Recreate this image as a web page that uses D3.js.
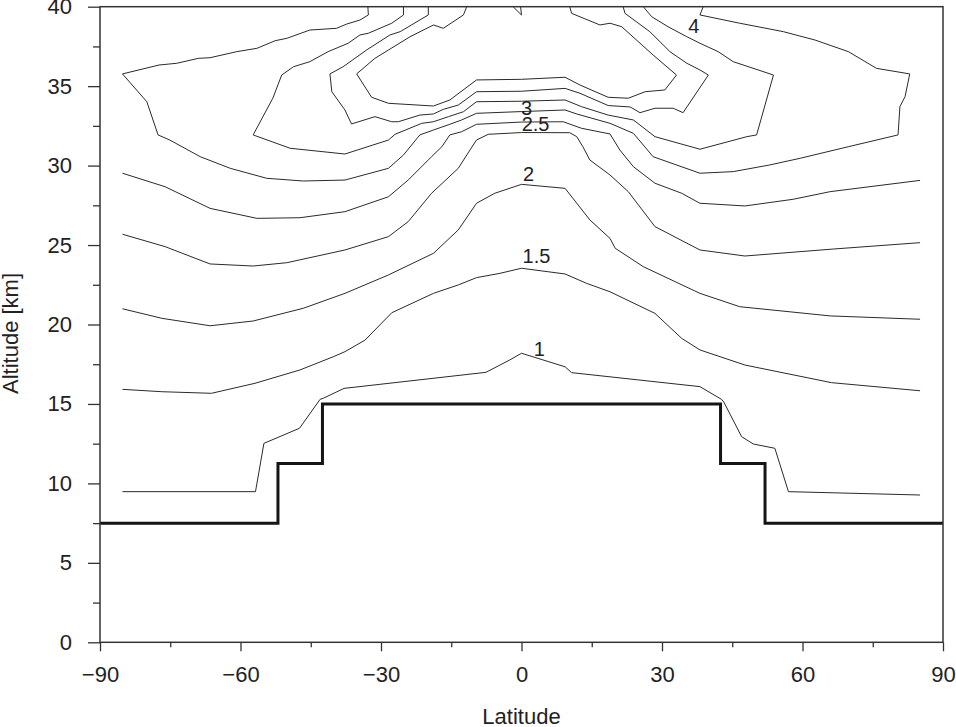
<!DOCTYPE html>
<html>
<head>
<meta charset="utf-8">
<script src="https://cdn.jsdelivr.net/npm/d3@7"></script>
<style>
  html, body { margin: 0; padding: 0; background: #fff; }
  svg { display: block; font-family: "Liberation Sans", Arial, Helvetica, sans-serif; }
</style>
</head>
<body>
<svg id="chart" width="956" height="727"></svg>
<script>
// ---------- DATA (latitude [deg], altitude [km]) ----------
const xTicks = [-90, -60, -30, 0, 30, 60, 90];
const xMinorTicks = [-75, -45, -15, 15, 45, 75];
const yTicks = [0, 5, 10, 15, 20, 25, 30, 35, 40];
const yMinorTicks = [2.5, 7.5, 12.5, 17.5, 22.5, 27.5, 32.5, 37.5];

// tropopause step line (step-after)
const tropLat = [-90, -52, -42.5, 42.5, 52, 90];
const tropAlt = [7.5, 11.25, 15, 11.25, 7.5, 7.5];

const contour_1_0 = [[-85.2,9.48],[-56.8,9.48],[-55.0,12.52],[-47.4,13.47],[-43.0,15.29],[-42.3,15.36],[-37.9,15.98],[-7.6,16.99],[-2.5,17.77],[0.0,18.19],[9.3,17.34],[10.7,16.97],[38.1,16.09],[42.7,15.29],[43.2,15.12],[47.0,12.94],[49.5,12.48],[54.1,12.21],[57.0,9.48],[85.1,9.27]];
const contour_1_5 = [[-85.2,15.92],[-76.8,15.77],[-66.2,15.67],[-56.9,16.3],[-47.3,17.14],[-40.2,17.97],[-37.7,18.29],[-33.4,19.02],[-27.7,20.74],[-18.8,21.96],[-13.5,22.49],[-9.6,22.95],[-4.6,23.22],[0.0,23.54],[9.3,23.18],[13.9,22.59],[18.9,22.06],[28.5,20.7],[34.2,19.13],[38.1,18.4],[47.7,17.45],[66.2,16.34],[85.1,15.83]];
const contour_2_0 = [[-85.2,20.99],[-76.8,20.39],[-66.5,19.92],[-57.3,20.22],[-46.6,21.02],[-37.7,21.96],[-28.4,23.12],[-18.8,24.48],[-13.5,25.95],[-9.6,27.63],[-5.7,28.26],[0.0,28.82],[9.3,28.57],[14.6,26.58],[18.9,25.42],[20.0,24.8],[26.0,23.64],[38.1,21.96],[46.6,21.12],[65.9,20.54],[85.1,20.33]];
const contour_2_5 = [[-85.2,25.68],[-76.1,24.9],[-66.5,23.81],[-57.3,23.68],[-50.1,23.89],[-37.7,24.69],[-28.4,25.53],[-24.2,26.47],[-19.2,28.26],[-13.5,29.83],[-11.0,30.98],[-9.6,31.61],[-7.1,31.97],[0.0,32.08],[10.3,32.07],[11.8,31.82],[13.1,31.19],[14.6,30.35],[18.9,29.41],[22.8,28.36],[28.5,26.16],[38.1,24.69],[47.7,24.31],[66.6,24.75],[85.1,25.15]];
const contour_3_0 = [[-85.2,29.52],[-76.1,28.67],[-66.5,27.31],[-56.5,26.68],[-47.3,26.72],[-37.7,27.1],[-28.4,28.04],[-24.2,29.09],[-19.2,30.56],[-17.0,31.19],[-15.3,31.93],[-12.8,32.13],[-9.6,32.6],[0.0,32.74],[8.9,32.76],[12.8,32.35],[18.9,31.99],[21.0,30.98],[23.9,29.93],[28.5,28.89],[34.2,28.26],[38.1,27.63],[47.7,27.46],[58.0,27.88],[65.9,28.36],[85.1,29.07]];
const contour_3_5 = [[-32.8,40.0],[-32.7,39.48],[-34.5,39.16],[-37.3,38.91],[-39.5,38.64],[-45.2,38.53],[-50.1,38.01],[-52.6,37.86],[-56.5,37.38],[-60.8,37.17],[-66.5,36.79],[-69.0,36.75],[-73.6,36.44],[-77.4,36.33],[-85.2,35.77],[-80.0,34.02],[-77.6,31.93],[-75.1,31.61],[-68.6,30.56],[-62.2,29.83],[-54.4,29.2],[-46.6,29.03],[-37.7,29.09],[-28.4,29.83],[-25.2,30.67],[-21.7,31.93],[-18.8,32.24],[-15.3,32.6],[-12.8,32.87],[-9.6,33.29],[0.0,33.4],[9.3,33.5],[11.8,33.25],[18.9,32.66],[23.9,32.03],[28.1,30.56],[38.1,29.52],[45.2,29.62],[53.0,30.04],[59.5,30.46],[69.8,31.19],[80.4,31.93],[80.8,33.71],[81.9,34.34],[82.9,35.77],[75.8,36.12],[69.8,37.17],[62.7,37.9],[55.9,38.43],[46.6,38.96],[38.1,39.48],[38.8,40.0]];
const contour_4_0 = [[-25.2,40.0],[-25.2,39.48],[-27.7,38.96],[-32.7,38.33],[-34.5,38.22],[-37.0,37.7],[-41.3,37.17],[-45.2,36.54],[-48.7,36.22],[-51.2,35.7],[-53.1,34.24],[-57.3,31.93],[-49.4,31.09],[-37.7,30.73],[-28.4,31.61],[-27.0,31.97],[-21.3,32.66],[-18.8,32.76],[-15.6,33.08],[-12.4,33.39],[-9.6,34.02],[0.0,34.05],[9.3,34.13],[12.8,33.71],[18.5,33.18],[23.9,32.87],[28.5,31.82],[38.1,31.03],[48.1,31.82],[50.2,31.93],[53.8,35.7],[45.2,36.54],[42.0,37.17],[38.1,37.7],[35.3,38.11],[31.3,38.74],[27.8,39.37],[26.0,40.0]];
const contour_4_5 = [[-19.9,40.0],[-19.9,39.48],[-25.9,38.43],[-28.1,38.22],[-33.1,37.27],[-38.1,36.22],[-40.9,35.77],[-40.5,34.65],[-37.7,33.5],[-36.3,32.62],[-31.3,33.08],[-27.7,32.76],[-26.3,32.76],[-21.7,33.18],[-18.8,33.25],[-16.7,33.54],[-13.5,33.81],[-9.6,34.65],[0.0,34.68],[9.3,34.86],[12.5,34.55],[18.5,33.78],[23.2,33.69],[25.3,33.33],[28.5,33.61],[32.4,33.61],[34.5,33.33],[39.9,35.7],[38.1,36.02],[35.3,36.44],[31.7,37.17],[27.4,38.43],[22.1,39.58],[21.7,40.0]];
const contour_5_0 = [[-11.7,40.0],[-12.4,39.48],[-16.7,38.64],[-18.8,38.85],[-23.8,38.11],[-31.3,36.75],[-35.2,35.77],[-32.0,34.3],[-28.4,33.92],[-18.8,33.75],[-15.3,34.13],[-9.6,35.39],[0.0,35.43],[9.3,35.56],[12.5,35.07],[18.5,34.3],[22.8,34.24],[26.4,34.65],[30.6,34.76],[33.1,35.7],[28.1,36.96],[21.4,38.74],[18.9,38.96],[16.75,38.85],[10.7,39.58],[10.3,40.0]];
const contour_5_5 = [[-1.8,40.0],[0.0,39.48],[-0.2,40.0]];

const contours = [contour_1_0, contour_1_5, contour_2_0, contour_2_5, contour_3_0,
                  contour_3_5, contour_4_0, contour_4_5, contour_5_0, contour_5_5];

// contour labels: text, lat, alt
const labelText = ["1", "1.5", "2", "2.5", "3", "4"];
const labelLat  = [3.8, 3.2, 1.5, 3.0, 1.1, 36.8];
const labelAlt  = [18.5, 24.34, 29.46, 32.64, 33.61, 38.8];

// ---------- CHART ----------
const svg = d3.select("#chart");
const x = d3.scaleLinear().domain([-90, 90]).range([100, 943]);
const y = d3.scaleLinear().domain([0, 40]).range([642.3, 6.7]);
const fontFamily = '"Liberation Sans", Arial, Helvetica, sans-serif';
const fmt = d => d < 0 ? "\u2212" + Math.abs(d) : String(d);

svg.append("defs").append("clipPath").attr("id", "plotclip")
  .append("rect")
  .attr("x", x(-90)).attr("y", y(40))
  .attr("width", x(90) - x(-90)).attr("height", y(0) - y(40));

const line = d3.line().x(d => x(d[0])).y(d => y(d[1]));

const plot = svg.append("g").attr("clip-path", "url(#plotclip)");

plot.selectAll("path.contour")
  .data(contours)
  .enter().append("path")
  .attr("class", "contour")
  .attr("d", line)
  .attr("fill", "none")
  .attr("stroke", "#2a2a2a")
  .attr("stroke-width", 1)
  .attr("stroke-linejoin", "round");

const tropData = tropLat.map((v, i) => [v, tropAlt[i]]);
plot.append("path")
  .datum(tropData)
  .attr("d", d3.line().x(d => x(d[0])).y(d => y(d[1])).curve(d3.curveStepAfter))
  .attr("fill", "none")
  .attr("stroke", "#151515")
  .attr("stroke-width", 3)
  .attr("stroke-linejoin", "miter");

// labels
svg.append("g").selectAll("text")
  .data(labelText)
  .enter().append("text")
  .attr("x", (d, i) => x(labelLat[i]))
  .attr("y", (d, i) => y(labelAlt[i]))
  .attr("dy", "0.36em")
  .attr("text-anchor", "middle")
  .attr("font-size", 20)
  .attr("fill", "#222")
  .text(d => d);

// axes
const xAxis = svg.append("g")
  .attr("transform", `translate(0,${y(0)})`)
  .call(d3.axisBottom(x).tickValues(xTicks).tickSize(9).tickPadding(15).tickFormat(fmt));
const xMinor = svg.append("g")
  .attr("transform", `translate(0,${y(0)})`)
  .call(d3.axisBottom(x).tickValues(xMinorTicks).tickSize(5).tickFormat(""));
const yAxis = svg.append("g")
  .attr("transform", `translate(${x(-90)},0)`)
  .call(d3.axisLeft(y).tickValues(yTicks).tickSize(12).tickPadding(16).tickFormat(fmt));
const yMinor = svg.append("g")
  .attr("transform", `translate(${x(-90)},0)`)
  .call(d3.axisLeft(y).tickValues(yMinorTicks).tickSize(7).tickFormat(""));

[xAxis, xMinor, yAxis, yMinor].forEach(g => {
  g.select(".domain").remove();
  g.selectAll(".tick line").attr("stroke", "#333").attr("stroke-width", 1.3);
  g.selectAll(".tick text").attr("font-size", 22).attr("fill", "#222")
    .attr("font-family", fontFamily);
});

// frame
svg.append("rect")
  .attr("x", x(-90)).attr("y", y(40))
  .attr("width", x(90) - x(-90)).attr("height", y(0) - y(40))
  .attr("fill", "none")
  .attr("stroke", "#333")
  .attr("stroke-width", 1.5);

// axis titles
svg.append("text")
  .attr("x", (x(-90) + x(90)) / 2)
  .attr("y", 724)
  .attr("text-anchor", "middle")
  .attr("font-size", 22)
  .attr("fill", "#222")
  .text("Latitude");

svg.append("text")
  .attr("transform", `translate(18,${(y(0) + y(40)) / 2 + 9}) rotate(-90)`)
  .attr("text-anchor", "middle")
  .attr("font-size", 22)
  .attr("fill", "#222")
  .text("Altitude [km]");
</script>
</body>
</html>
